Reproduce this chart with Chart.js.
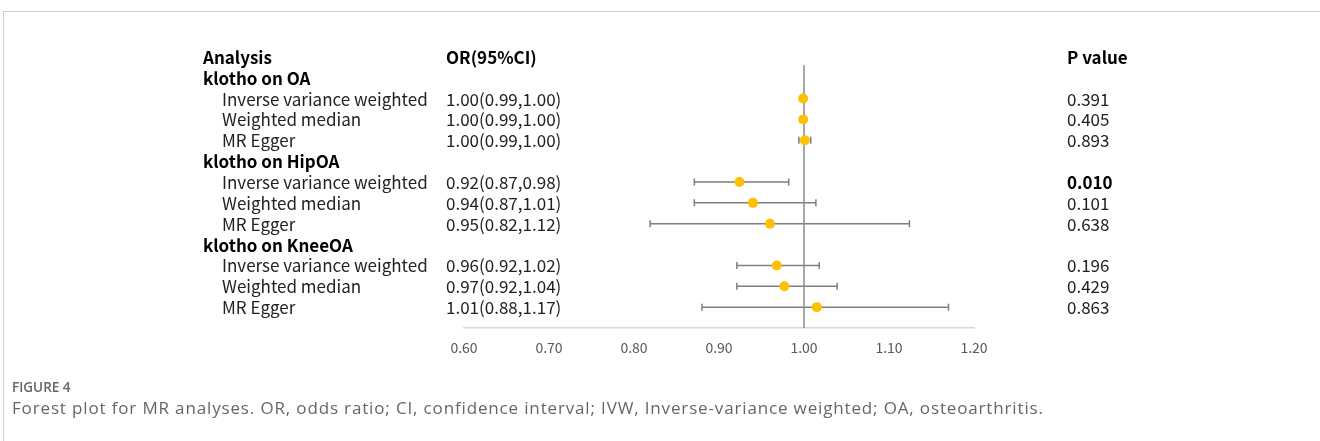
<!DOCTYPE html>
<html>
<head>
<meta charset="utf-8">
<script src="https://cdn.jsdelivr.net/npm/chart.js@4.4.1/dist/chart.umd.min.js"></script>
<style>
  html, body { margin: 0; padding: 0; background: #fff; }
  body { width: 1320px; height: 441px; position: relative; overflow: hidden; }
  #frame { position: absolute; left: 3px; top: 11px; width: 1317px; height: 430px;
           border-top: 1px solid #cfcfcf; border-left: 1px solid #cfcfcf; }
  #wrap { position: absolute; left: 0; top: 0; width: 1320px; height: 441px; }
  #fig { position: absolute; left: 12px; top: 378px; font-family: "Open Sans", sans-serif;
         font-size: 13.5px; font-weight: 600; color: #666; white-space: nowrap; }
  #cap { position: absolute; left: 12px; top: 396px; font-family: "Open Sans", sans-serif;
         font-size: 17px; letter-spacing: 0.85px; color: #666; white-space: nowrap; }
</style>
</head>
<body>
<div id="frame"></div>
<div id="wrap"><canvas id="c" width="1320" height="441"></canvas></div>
<div id="fig">FIGURE 4</div>
<div id="cap">Forest plot for MR analyses. OR, odds ratio; CI, confidence interval; IVW, Inverse-variance weighted; OA, osteoarthritis.</div>
<script>
// ---- data ----
const rowLabels = ["Analysis", "klotho on OA", "Inverse variance weighted", "Weighted median", "MR Egger",
  "klotho on HipOA", "Inverse variance weighted", "Weighted median", "MR Egger",
  "klotho on KneeOA", "Inverse variance weighted", "Weighted median", "MR Egger"];
const rowIsHeader = [true, true, false, false, false, true, false, false, false, true, false, false, false];
const orTexts = ["OR(95%CI)", "", "1.00(0.99,1.00)", "1.00(0.99,1.00)", "1.00(0.99,1.00)",
  "", "0.92(0.87,0.98)", "0.94(0.87,1.01)", "0.95(0.82,1.12)",
  "", "0.96(0.92,1.02)", "0.97(0.92,1.04)", "1.01(0.88,1.17)"];
const pTexts = ["P value", "", "0.391", "0.405", "0.893", "", "0.010", "0.101", "0.638", "", "0.196", "0.429", "0.863"];
const pBold = [true, false, false, false, false, false, true, false, false, false, false, false, false];
const estimates = [null, null, 0.999, 0.999, 1.001, null, 0.924, 0.940, 0.960, null, 0.968, 0.977, 1.015];
const lowerCI  = [null, null, 0.996, 0.996, 0.994, null, 0.871, 0.871, 0.819, null, 0.921, 0.921, 0.880];
const upperCI  = [null, null, 1.001, 1.001, 1.008, null, 0.982, 1.014, 1.124, null, 1.018, 1.039, 1.170];
const xTicks = [0.6, 0.7, 0.8, 0.9, 1.0, 1.1, 1.2];
const nullValue = 1.0;

const TEXT_FONT = '"Noto Sans CJK SC", "Noto Sans", sans-serif';

const pointData = [];
estimates.forEach((v, i) => { if (v !== null) pointData.push({ x: v, y: i }); });

const errorBars = {
  id: 'errorBars',
  beforeDatasetsDraw(chart) {
    const ctx = chart.ctx, xs = chart.scales.x, ys = chart.scales.y;
    ctx.save();
    ctx.strokeStyle = '#7f7f7f';
    ctx.lineWidth = 1.5;
    for (let i = 0; i < estimates.length; i++) {
      if (lowerCI[i] === null) continue;
      const y = ys.getPixelForValue(i);
      const x1 = xs.getPixelForValue(lowerCI[i]);
      const x2 = xs.getPixelForValue(upperCI[i]);
      ctx.beginPath();
      ctx.moveTo(x1, y); ctx.lineTo(x2, y);
      ctx.moveTo(x1, y - 3.5); ctx.lineTo(x1, y + 3.5);
      ctx.moveTo(x2, y - 3.5); ctx.lineTo(x2, y + 3.5);
      ctx.stroke();
    }
    ctx.restore();
  }
};

const tableText = {
  id: 'tableText',
  afterDraw(chart) {
    const ctx = chart.ctx, ys = chart.scales.y;
    ctx.save();
    ctx.textBaseline = 'middle';
    ctx.textAlign = 'left';
    for (let i = 0; i < rowLabels.length; i++) {
      const y = ys.getPixelForValue(i) + 0.5;
      ctx.fillStyle = rowIsHeader[i] ? '#000' : '#222';
      ctx.font = (rowIsHeader[i] ? 'bold ' : '') + '17px ' + TEXT_FONT;
      ctx.fillText(rowLabels[i], rowIsHeader[i] ? 203 : 222, y);
      if (orTexts[i]) {
        ctx.font = (i === 0 ? 'bold ' : '') + '17px ' + TEXT_FONT;
        ctx.fillStyle = i === 0 ? '#000' : '#222';
        ctx.fillText(orTexts[i], 446, y);
      }
      if (pTexts[i]) {
        ctx.font = (pBold[i] ? 'bold ' : '') + '17px ' + TEXT_FONT;
        ctx.fillStyle = pBold[i] ? '#000' : '#222';
        ctx.fillText(pTexts[i], 1067, y);
      }
    }
    ctx.restore();
  }
};

new Chart(document.getElementById('c'), {
  type: 'scatter',
  data: {
    datasets: [
      {
        type: 'line',
        data: [{ x: nullValue, y: 0.4 }, { x: nullValue, y: 13 }],
        borderColor: '#8a8a8a',
        borderWidth: 1.5,
        pointRadius: 0,
        order: 2
      },
      {
        data: pointData,
        backgroundColor: '#FFC000',
        borderWidth: 0,
        pointRadius: 5,
        order: 1
      }
    ]
  },
  options: {
    responsive: false,
    animation: false,
    events: [],
    layout: { padding: { left: 464, right: 346, top: 36, bottom: 83 } },
    plugins: { legend: { display: false }, tooltip: { enabled: false } },
    scales: {
      x: {
        type: 'linear',
        min: 0.6, max: 1.2,
        afterBuildTicks: (s) => { s.ticks = xTicks.map(v => ({ value: v })); },
        afterFit: (s) => { s.height = 30; },
        grid: { display: false, drawTicks: false },
        border: { display: true, color: '#d9d9d9', width: 1.5 },
        ticks: {
          padding: 11,
          color: '#595959',
          font: { family: TEXT_FONT, size: 14 },
          callback: (v) => Number(v).toFixed(2),
          maxRotation: 0
        }
      },
      y: {
        type: 'linear',
        reverse: true,
        min: -1, max: 13,
        display: false
      }
    }
  },
  plugins: [errorBars, tableText]
});
</script>
</body>
</html>
